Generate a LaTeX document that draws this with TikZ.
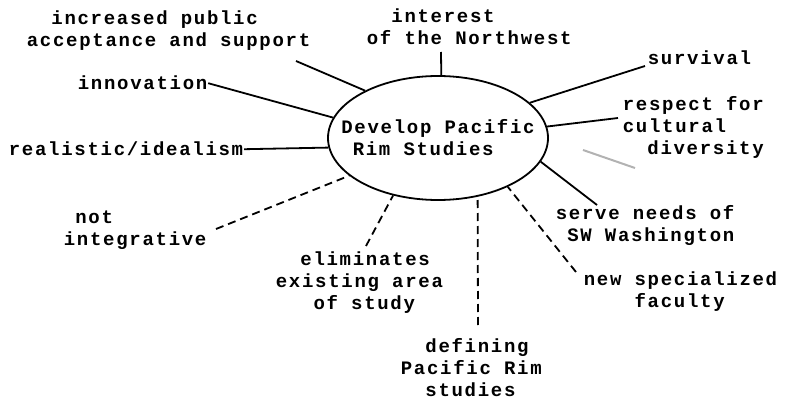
\documentclass[tikz,border=0pt]{standalone}
\usepackage{fontspec}
\newfontfamily\typefont[LetterSpace=9]{Liberation Mono}
\usetikzlibrary{shapes, positioning}

\begin{document}
\begin{tikzpicture}[x=1pt, y=-1pt, line width=1.8pt,
  every node/.style={font=\typefont\bfseries\fontsize{19}{22}\selectfont, inner sep=0pt},
  txt/.style={anchor=base west, align=left},
  con/.style={dash pattern=on 8pt off 5pt}]
  \useasboundingbox (0,0) rectangle (807,404);

  \node[ellipse,draw,inner xsep=-30pt,inner ysep=0pt,minimum width=220pt,minimum height=124pt,align=left] (D) at (438,138) {Develop Pacific\\\hphantom{D}Rim Studies};

  % pros
  \node[txt] (pub) at (26,47) {\hphantom{ac}increased public\\acceptance and support};
  \node[txt] (nw) at (366,45) {\hphantom{of}interest\\of the Northwest};
  \node[txt] (inno) at (77,90) {innovation};
  \node[txt] (real) at (8,156) {realistic/idealism};
  \node[txt] (surv) at (647,65) {survival};
  \node[txt] (resp) at (622,154) {respect for\\cultural\\\hphantom{cu}diversity};
  \node[txt] (serve) at (555,241) {serve needs of\\\hphantom{s}SW Washington};

  % cons
  \node[txt] (notint) at (63,245) {\hphantom{i}not\\integrative};
  \node[txt] (elim) at (275,309) {\hphantom{ex}eliminates\\existing area\\\hphantom{exi}of study};
  \node[txt] (def) at (400,396) {\hphantom{Pa}defining\\Pacific Rim\\\hphantom{Pa}studies};
  \node[txt] (newf) at (583,307) {new specialized\\\hphantom{newx}faculty};

  \coordinate (pubend) at (296,61);
  \coordinate (nwend) at (441,52);
  \coordinate (survend) at (645,66);
  \coordinate (respend) at (618,118);
  \coordinate (serveend) at (597,205);
  \coordinate (notend) at (216,229);
  \coordinate (elimend) at (366,246);
  \coordinate (defend) at (478,325);
  \coordinate (newend) at (576,272);

  \draw (pubend) -- (D.147);
  \draw (nwend) -- (D.87);
  \draw (inno.east) -- (D.169);
  \draw (real.east) -- (D.185);
  \draw (survend) -- (D.21);
  \draw (respend) -- (D.6);
  \draw (serveend) -- (D.-13);

  \draw[con] (notend) -- (D.203);
  \draw[con] (elimend) -- (D.232);
  \draw[con] (defend) -- (D.-56);
  \draw[con] (newend) -- (D.-35);

  \draw[gray!60, line width=2pt] (583,150) -- (635,168);
\end{tikzpicture}
\end{document}
